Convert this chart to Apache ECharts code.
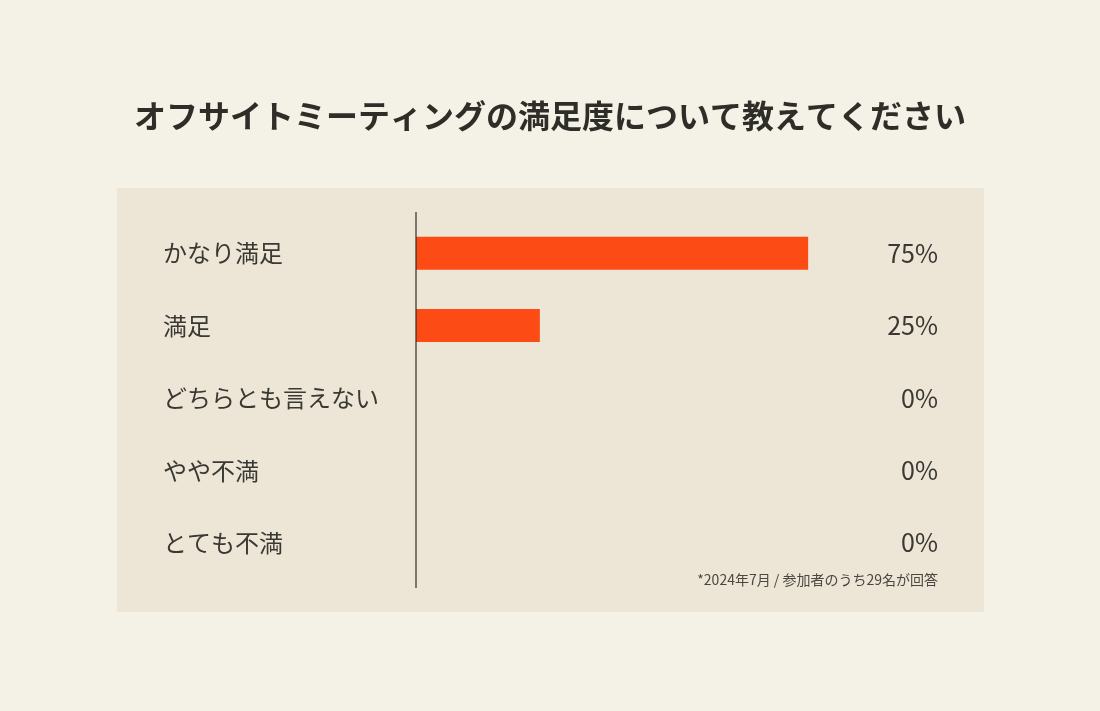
<!DOCTYPE html>
<html lang="ja">
<head>
  <meta charset="UTF-8">
  <title>オフサイトミーティングの満足度</title>
  <style>
    html, body { margin: 0; padding: 0; background: #f4f1e7; }
    #chart { width: 1100px; height: 711px; }
  </style>
</head>
<body>
  <div id="chart"></div>
  <script src="https://cdn.jsdelivr.net/npm/echarts@6/dist/echarts.min.js"></script>
  <script>
    // 回答カテゴリ
    var categories = ['かなり満足', '満足', 'どちらとも言えない', 'やや不満', 'とても不満'];
    // バーの長さ
    var shares = [76, 24, 0, 0, 0];
    // 右側の表示ラベル
    var shareLabels = ['75%', '25%', '0%', '0%', '0%'];

    var font = '"Noto Sans CJK JP", "Noto Sans", sans-serif';
    var textColor = '#3a3833';

    var myChart = echarts.init(document.getElementById('chart'));

    var option = {
      backgroundColor: '#f4f1e7',
      title: [{
        text: 'オフサイトミーティングの満足度について教えてください',
        left: 'center',
        top: 95,
        textStyle: { fontFamily: font, fontSize: 32, fontWeight: 'bold', color: '#2f2d28' }
      }],
      graphic: [
        { // パネル背景
          type: 'rect', z: -10,
          shape: { x: 117, y: 188, width: 867, height: 424 },
          style: { fill: '#ede6d7' }
        },
        { // 縦軸線
          type: 'line', z: 10,
          shape: { x1: 416, y1: 212, x2: 416, y2: 588 },
          style: { stroke: '#2f2d28', lineWidth: 1.2 }
        },
        {
          type: 'text',
          right: 162, top: 573,
          style: { text: '*2024年7月 / 参加者のうち29名が回答', font: '14px ' + font, fill: '#4a4740' }
        }
      ],
      grid: { left: 416, top: 217, width: 516, height: 362 },
      xAxis: {
        type: 'value', min: 0, max: 100,
        show: false
      },
      yAxis: [{
        type: 'category',
        inverse: true,
        data: categories,
        axisLine: { show: false },
        axisTick: { show: false },
        axisLabel: { align: 'left', margin: 253, fontFamily: font, fontSize: 24, color: textColor }
      }, {
        type: 'category',
        inverse: true,
        position: 'right',
        data: shareLabels,
        axisLine: { show: false },
        axisTick: { show: false },
        axisLabel: { align: 'right', margin: 6, fontFamily: font, fontSize: 25, color: textColor }
      }],
      series: [{
        type: 'bar',
        data: shares,
        barWidth: 33,
        itemStyle: { color: '#fc4b14' },
        silent: true
      }]
    };

    myChart.setOption(option);
  </script>
</body>
</html>
